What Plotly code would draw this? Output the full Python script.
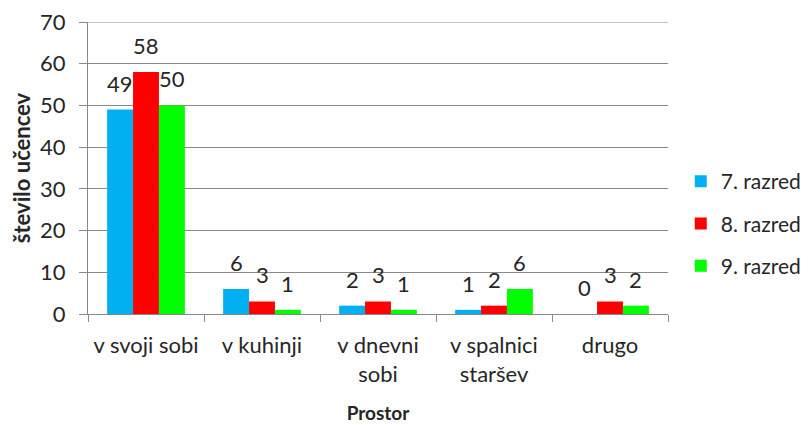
import plotly.graph_objects as go

categories = ["v svoji sobi", "v kuhinji", "v dnevni<br>sobi", "v spalnici<br>staršev", "drugo"]
razred_7 = [49, 6, 2, 1, 0]
razred_8 = [58, 3, 3, 2, 3]
razred_9 = [50, 1, 1, 6, 2]
series_names = ["7. razred", "8. razred", "9. razred"]
colors = ["#00B0F0", "#FF0000", "#00FF00"]
y_ticks = [0, 10, 20, 30, 40, 50, 60, 70]

FONT = "Lato, 'Open Sans', sans-serif"
GRID = "#898989"
BARGAP = 0.33
bar_w = (1 - BARGAP) / 3

fig = go.Figure()
all_series = [razred_7, razred_8, razred_9]
for i, (name, vals) in enumerate(zip(series_names, all_series)):
    fig.add_trace(go.Bar(
        x=categories, y=vals, name=name,
        marker=dict(color=colors[i], line=dict(width=0)),
        legendgroup=name,
    ))
    # value labels a little above each bar
    for j, v in enumerate(vals):
        fig.add_annotation(
            x=j + (i - 1) * bar_w, y=v, text=str(v), showarrow=False,
            yanchor="bottom", yshift=11,
            font=dict(size=22, color="#262626", family=FONT),
        )

# top gridline sits on the plot edge and is not drawn by plotly, add it by hand
fig.add_shape(type="line", xref="paper", yref="y", x0=0, x1=1,
              y0=y_ticks[-1], y1=y_ticks[-1], line=dict(color=GRID, width=1))

# the page adds an 8px body margin, so the figure is made 8px smaller
# to stay inside the 808x425 window
fig.update_layout(
    width=800, height=417,
    margin=dict(l=80, r=140, t=14, b=111, autoexpand=False),
    paper_bgcolor="white", plot_bgcolor="white",
    barmode="group", bargap=BARGAP, bargroupgap=0,
    font=dict(family=FONT, size=22, color="#262626"),
    showlegend=True,
    legend=dict(x=1.022, y=0.31, xanchor="left", yanchor="middle",
                font=dict(size=21, family=FONT), tracegroupgap=12,
                traceorder="grouped", borderwidth=0),
)
fig.update_yaxes(
    range=[0, 70], tickvals=y_ticks,
    showgrid=True, gridcolor=GRID, gridwidth=1,
    showline=True, linecolor=GRID, ticks="outside", ticklen=8,
    tickcolor=GRID, tickfont=dict(size=22), zeroline=False,
    ticklabelstandoff=9, ticklabeloverflow="allow",
    title=dict(text="<b>število učencev</b>", font=dict(size=22), standoff=10),
)
fig.update_xaxes(
    showline=True, linecolor=GRID, ticks="outside", ticklen=7,
    tickcolor=GRID, tickson="boundaries", tickfont=dict(size=22),
    ticklabelstandoff=12,
    title=dict(text="<b>Prostor</b>", font=dict(size=19), standoff=20),
)

fig.write_html("out.html")
